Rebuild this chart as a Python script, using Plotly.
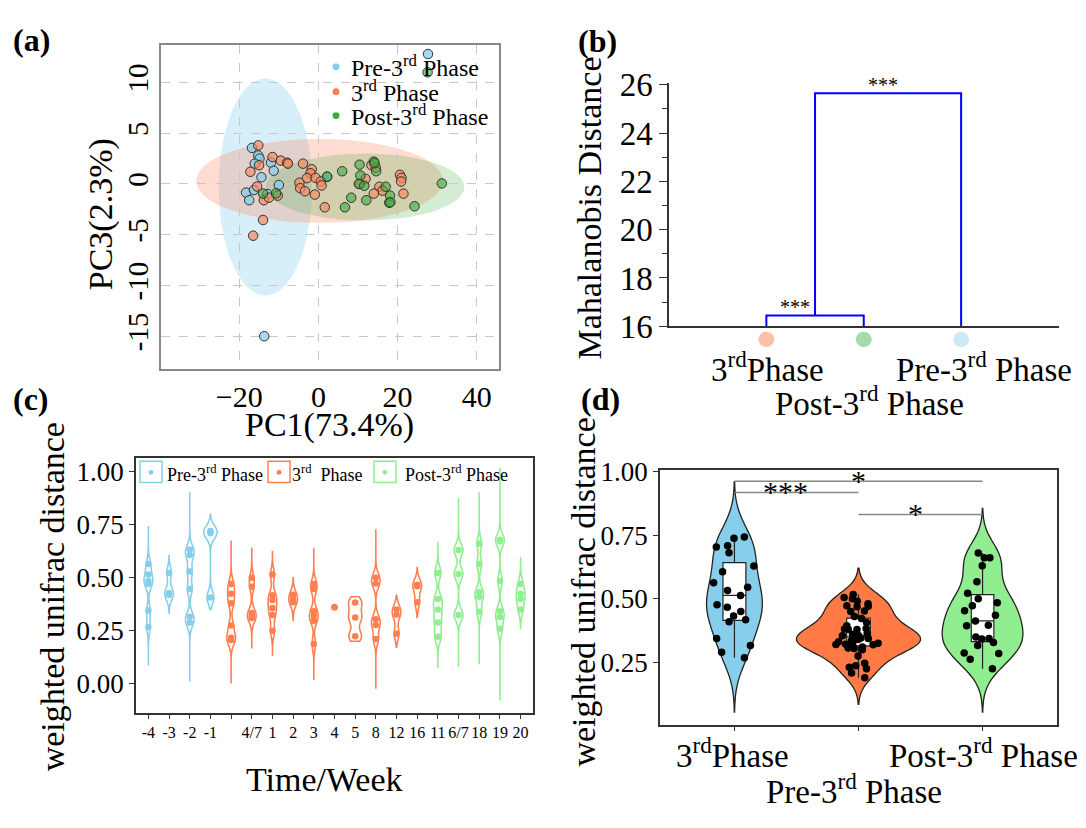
import plotly.graph_objects as go

W, H = 1086, 828
FONT = "Liberation Serif, Times New Roman, serif"


def fx(p):
    return p / W


def fy(p):
    return 1 - p / H


# ---------------- Panel (a): PCA scatter ----------------
pre_pc1 = [-16.8, -15.2, -14.9, -16.1, -12.0, -11.3, -14.4, -10.0, -18.3, -16.3, -17.5, -12.9, -13.7, 27.7, 2.2]
pre_pc3 = [3.55, 2.8, 2.5, 2.0, 2.1, 1.3, 0.66, -0.1, -0.85, -0.6, -1.6, -1.0, -15.0, 12.8, 0.7]

third_pc1 = [-15.2, -11.6, -9.5, -7.9, -7.7, -3.9, -1.7, -2.0, -2.9, -0.7, 0.6, 0.8, -4.8, -4.6, -3.4, -0.9,
             1.6, -17.2, -15.5, -13.8, -12.5, -10.3, -14.0, -16.5, -15.0, 13.4, 14.5, 11.9, 10.5, 15.4,
             16.2, 14.0, 20.6, 21.0, 20.9, 21.5]
third_pc3 = [3.8, 2.65, 2.3, 2.1, 2.0, 2.0, 1.45, 1.05, 0.57, 0.6, 0.25, -0.15, 0.12, -0.42, -0.72, -1.05,
             -2.3, 1.2, -0.25, -1.6, -1.35, -1.15, -3.55, -5.1, 1.85, 1.85, 1.6, 0.5, 0.0, -0.28,
             -0.66, -0.95, 0.9, 0.6, 0.24, -0.95]

post_pc1 = [6.0, 10.4, 14.0, 14.6, 10.6, 10.2, 11.6, 17.0, 18.1, 17.9, 12.1, 8.3, 6.7, 24.3, 31.2, 2.2,
            -14.0, -10.7, 27.6, 14.2, 18.2]
post_pc3 = [1.25, 1.9, 2.2, 1.25, 0.83, 0.0, -0.18, -0.28, -1.15, -1.85, -1.6, -1.35, -2.3, -2.2, 0.05, 0.72,
            -0.95, -0.92, 11.0, 2.05, -1.8]

# confidence ellipses (centre, semi-axes) for Pre-3rd, 3rd, Post-3rd
ell_cx = [-13.4, 0.3, 11.8]
ell_cy = [-0.3, 0.3, -0.3]
ell_rx = [11.8, 31.2, 25.1]
ell_ry = [10.7, 4.13, 3.3]

# ---------------- Panel (b): dendrogram ----------------
b_leaf_labels = ["3<sup>rd</sup>Phase", "Post-3<sup>rd</sup> Phase", "Pre-3<sup>rd</sup> Phase"]
b_leaf_x = [1, 2, 3]
b_base = 16
# merges: [left cluster id, right cluster id, height]; new clusters numbered from 3
b_merges = [[0, 1, 16.45], [3, 2, 25.65]]
b_sig = ["***", "***"]

# ---------------- Panel (c): weekly violins ----------------
c_tick_labels = ["-4", "-3", "-2", "-1", "", "4/7", "1", "2", "3", "4", "5", "8", "12", "16",
                 "11", "6/7", "18", "19", "20"]
c_phase = ["pre"] * 4 + ["third"] * 10 + ["post"] * 5
c_values = [
    [0.565, 0.515, 0.485, 0.47, 0.345, 0.267],
    [0.523, 0.428, 0.42],
    [0.633, 0.608, 0.53, 0.447, 0.316, 0.289],
    [0.721, 0.71, 0.407],
    [0.47, 0.425, 0.38, 0.274, 0.217, 0.206],
    [0.5, 0.458, 0.334, 0.32, 0.31],
    [0.515, 0.417, 0.395, 0.357, 0.324, 0.25],
    [0.42, 0.4, 0.384],
    [0.47, 0.447, 0.342, 0.32, 0.297, 0.187],
    [0.361],
    [0.383, 0.312, 0.224],
    [0.5, 0.473, 0.304, 0.277, 0.211],
    [0.35, 0.327, 0.236],
    [0.467, 0.46, 0.384],
    [0.523, 0.4, 0.35, 0.289, 0.221],
    [0.631, 0.518, 0.324],
    [0.661, 0.565, 0.432, 0.41, 0.339],
    [0.68, 0.673, 0.485, 0.342, 0.315, 0.259],
    [0.47, 0.425, 0.4, 0.35],
]
c_span_lo = [0.086, 0.334, 0.01, 0.35, 0.0, 0.166, 0.131, 0.3, 0.018, 0.361, 0.2, -0.024, 0.172, 0.312,
             0.074, 0.078, 0.093, -0.08, 0.26]
c_span_hi = [0.744, 0.605, 0.904, 0.80, 0.676, 0.643, 0.628, 0.5, 0.639, 0.361, 0.41, 0.729, 0.417, 0.548,
             0.669, 0.877, 0.904, 1.02, 0.598]

# ---------------- Panel (d): phase violins ----------------
d_tick_labels = ["3<sup>rd</sup>Phase", "Pre-3<sup>rd</sup> Phase", "Post-3<sup>rd</sup> Phase"]
d_pre = [0.743, 0.738, 0.703, 0.708, 0.681, 0.629, 0.606, 0.563, 0.545, 0.532, 0.513, 0.476, 0.467,
         0.45, 0.432, 0.41, 0.417, 0.344, 0.316, 0.29, 0.268]
d_third = [0.50, 0.517, 0.505, 0.469, 0.47, 0.472, 0.45, 0.452, 0.422, 0.407, 0.394, 0.381, 0.38, 0.383,
           0.379, 0.363, 0.356, 0.35, 0.355, 0.344, 0.346, 0.325, 0.327, 0.331, 0.319, 0.321, 0.32,
           0.316, 0.306, 0.3, 0.31, 0.304, 0.275, 0.247, 0.237, 0.231, 0.225, 0.208, 0.19, 0.49, 0.48,
           0.43, 0.34, 0.335, 0.36]
d_post = [0.68, 0.661, 0.661, 0.63, 0.567, 0.522, 0.5, 0.484, 0.472, 0.435, 0.453, 0.413, 0.396, 0.394,
          0.344, 0.35, 0.342, 0.328, 0.316, 0.285, 0.287, 0.262, 0.225]
d_span_lo = [0.055, 0.085, 0.055]
d_span_hi = [0.96, 0.62, 0.855]
# significance comparisons: group a, group b, bracket level, label, label x
d_sig_a = [0, 0, 1]
d_sig_b = [2, 1, 2]
d_sig_level = [0.962, 0.917, 0.831]
d_sig_text = ["*", "***", "*"]
d_sig_text_x = [1.0, 0.415, 1.46]

# ---------------- styles ----------------
COL = {"pre": "#87ceeb", "third": "#ff7f50", "post": "#90ee90"}
PT_COL = ["rgba(135,206,235,0.75)", "rgba(245,140,95,0.7)", "rgba(60,170,60,0.6)"]
ELL_COL = ["rgba(135,206,235,0.33)", "rgba(250,128,90,0.28)", "rgba(60,170,60,0.22)"]
LEG_COL = ["#7fcbea", "#ff7f50", "#35b035"]
LEAF_COL = ["#f9c1a7", "#a5dba7", "#cde9f6"]

# panel (b) plot-area geometry in pixels (for leaf decorations)
B_X0, B_X1, B_XR = 669, 1058.5, [0, 4]
B_Y0, B_Y1, B_YR = 324, 70, [16, 26.07]

fig = go.Figure()
shapes = []
ann = []

# ---- (a)
for cx, cy, rx, ry, col in zip(ell_cx, ell_cy, ell_rx, ell_ry, ELL_COL):
    shapes.append(dict(type="circle", xref="x", yref="y", x0=cx - rx, x1=cx + rx, y0=cy - ry, y1=cy + ry,
                       fillcolor=col, line=dict(width=0), layer="below"))
for xs, ys, col in [(pre_pc1, pre_pc3, PT_COL[0]), (third_pc1, third_pc3, PT_COL[1]),
                    (post_pc1, post_pc3, PT_COL[2])]:
    fig.add_trace(go.Scatter(x=xs, y=ys, mode="markers", xaxis="x", yaxis="y", showlegend=False,
                             marker=dict(size=9.5, color=col, line=dict(color="#333", width=1))))

leg_a_text = ["Pre-3<sup>rd</sup> Phase", "3<sup>rd</sup> Phase", "Post-3<sup>rd</sup> Phase"]
leg_a_y = [53, 79, 104]
for t, yy, col in zip(leg_a_text, leg_a_y, LEG_COL):
    shapes.append(dict(type="circle", xref="paper", yref="paper", x0=fx(332.5), x1=fx(339.5),
                       y0=fy(yy + 3.5), y1=fy(yy - 3.5), fillcolor=col, line=dict(width=0)))
    ann.append(dict(text=t, x=fx(349), y=fy(yy - 1), xref="paper", yref="paper", xanchor="left",
                    yanchor="middle", showarrow=False, font=dict(family=FONT, size=24, color="black")))

# ---- (b) dendrogram
clusters = [(x, b_base) for x in b_leaf_x]
for ia, ib, h in b_merges:
    xa, ha = clusters[ia]
    xb, hb = clusters[ib]
    fig.add_trace(go.Scatter(x=[xa, xa, xb, xb], y=[ha, h, h, hb], mode="lines", xaxis="x2", yaxis="y2",
                             line=dict(color="#0000ff", width=2), showlegend=False, hoverinfo="skip"))
    clusters.append(((xa + xb) / 2, h))
leaf_y_px = B_Y0 + 13.6
for lx, col in zip(b_leaf_x, LEAF_COL):
    cxp = B_X0 + (lx - B_XR[0]) / (B_XR[1] - B_XR[0]) * (B_X1 - B_X0)
    shapes.append(dict(type="circle", xref="paper", yref="paper", x0=fx(cxp - 8), x1=fx(cxp + 8),
                       y0=fy(leaf_y_px + 8), y1=fy(leaf_y_px - 8), fillcolor=col, line=dict(width=0)))
ann.append(dict(text=b_sig[1], x=2.2, y=25.98, xref="x2", yref="y2", showarrow=False,
                font=dict(family=FONT, size=20, color="black")))
ann.append(dict(text=b_sig[0], x=1.29, y=16.78, xref="x2", yref="y2", showarrow=False,
                font=dict(family=FONT, size=20, color="black")))
for t, xx, yy in zip(b_leaf_labels, [767.5, 869.5, 983.7], [366, 402, 366]):
    ann.append(dict(text=t, x=fx(xx), y=fy(yy), xref="paper", yref="paper", xanchor="center",
                    yanchor="middle", showarrow=False, font=dict(family=FONT, size=33, color="black")))

# ---- (c) weekly violins
for i, (vals, ph, lo, hi) in enumerate(zip(c_values, c_phase, c_span_lo, c_span_hi)):
    col = COL[ph]
    if len(vals) == 1:
        fig.add_trace(go.Scatter(x=[i], y=vals, mode="markers", xaxis="x3", yaxis="y3", showlegend=False,
                                 marker=dict(color=col, size=7)))
        continue
    wdt = 0.65 if i in (3, 10) else 0.42
    fig.add_trace(go.Violin(x=[i] * len(vals), y=vals, xaxis="x3", yaxis="y3", showlegend=False,
                            line=dict(color=col, width=1.6), fillcolor="rgba(255,255,255,0)",
                            points="all", pointpos=0, jitter=0, marker=dict(color=col, size=6.5),
                            width=wdt, bandwidth=0.03, spanmode="manual", span=[lo, hi],
                            scalemode="width", hoverinfo="skip"))

leg_c = [("Pre-3<sup>rd</sup> Phase", 140, 165, COL["pre"]), ("3<sup>rd</sup>  Phase", 268, 290, COL["third"]),
         ("Post-3<sup>rd</sup> Phase", 374, 403, COL["post"])]
for t, bx, tx, col in leg_c:
    shapes.append(dict(type="rect", xref="paper", yref="paper", x0=fx(bx), x1=fx(bx + 22), y0=fy(487),
                       y1=fy(465), line=dict(color=col, width=1.5), fillcolor="rgba(0,0,0,0)"))
    shapes.append(dict(type="circle", xref="paper", yref="paper", x0=fx(bx + 8.5), x1=fx(bx + 13.5),
                       y0=fy(479), y1=fy(474), fillcolor=col, line=dict(width=0)))
    ann.append(dict(text=t, x=fx(tx), y=fy(478), xref="paper", yref="paper", xanchor="left",
                    yanchor="middle", showarrow=False, font=dict(family=FONT, size=18, color="black")))

# ---- (d) phase violins
d_sets = [d_pre, d_third, d_post]
d_cols = [COL["pre"], "#ff7a45", COL["post"]]
d_width = [0.45, 1.0, 0.65]
d_boxw = [0.41, 0.19, 0.28]
d_bw = [0.08, 0.045, 0.065]
d_jit = [0.85, 0.38, 0.55]
for k, vals in enumerate(d_sets):
    fig.add_trace(go.Violin(x=[k] * len(vals), y=vals, xaxis="x4", yaxis="y4", showlegend=False,
                            fillcolor=d_cols[k], line=dict(color="#222", width=1.3), opacity=1,
                            box=dict(visible=True, width=d_boxw[k], fillcolor="white",
                                     line=dict(color="#222", width=1.2)),
                            meanline=dict(visible=False), points="all", pointpos=0, jitter=d_jit[k],
                            marker=dict(color="black", size=7.5), width=d_width[k], bandwidth=d_bw[k],
                            spanmode="manual", span=[d_span_lo[k], d_span_hi[k]], scalemode="width",
                            hoverinfo="skip"))
for a, b, lv, t, tx in zip(d_sig_a, d_sig_b, d_sig_level, d_sig_text, d_sig_text_x):
    shapes.append(dict(type="line", xref="x4", yref="y4", x0=a, x1=b, y0=lv, y1=lv,
                       line=dict(color="#888", width=1.5)))
    ann.append(dict(text=t, x=tx, y=lv, xref="x4", yref="y4", yanchor="middle", yshift=1,
                    showarrow=False, font=dict(family=FONT, size=30, color="black")))
for t, xx, yy in zip(d_tick_labels, [732.6, 853.8, 983.7], [770, 807, 770]):
    ann.append(dict(text=t, x=fx(xx), y=fy(yy), xref="paper", yref="paper", xanchor="center",
                    yanchor="middle", showarrow=False, font=dict(family=FONT, size=33, color="black")))


# ---- titles & panel labels
def title(text, x, y, size=34, angle=0, bold=False):
    ann.append(dict(text=("<b>%s</b>" % text) if bold else text, x=fx(x), y=fy(y), xref="paper",
                    yref="paper", xanchor="center", yanchor="middle", showarrow=False, textangle=angle,
                    font=dict(family=FONT, size=size, color="black")))


title("PC1(73.4%)", 329, 427)
title("PC3(2.3%)", 101, 207, angle=-90)
title("Mahalanobis Distance", 590, 200, angle=-90)
title("weighted unifrac distance", 52, 607, angle=-90)
title("Time/Week", 324, 797)
title("weighted unifrac distance", 584, 602, angle=-90)
title("(a)", 31, 25, size=32, bold=True)
title("(b)", 597, 26, size=32, bold=True)
title("(c)", 31, 400, size=32, bold=True)
title("(d)", 600, 400, size=32, bold=True)


def tickfont(s):
    return dict(family=FONT, size=s, color="black")


fig.update_layout(
    width=W, height=H, margin=dict(l=0, r=0, t=0, b=0), paper_bgcolor="white", plot_bgcolor="white",
    font=dict(family=FONT, color="black"),
    violinmode="overlay", violingap=0, showlegend=False, shapes=shapes, annotations=ann,
    xaxis=dict(domain=[fx(161), fx(499)], range=[-39.8, 45.65], tickvals=[-20, 0, 20, 40], anchor="y",
               showgrid=True, gridcolor="#c8c8c8", griddash="dash", gridwidth=1, zeroline=False,
               showline=True, mirror=True, linecolor="#888", linewidth=1.5, ticks="", tickfont=tickfont(30)),
    yaxis=dict(domain=[fy(369), fy(30.7)], range=[-18.27, 13.65], tickvals=[-15, -10, -5, 0, 5, 10],
               ticktext=["-15", "-10", "-5", "0", "5", "10"],
               anchor="x", showgrid=True, gridcolor="#c8c8c8", griddash="dash", gridwidth=1, zeroline=False,
               showline=True, mirror=True, linecolor="#888", linewidth=1.5, ticks="", tickangle=270,
               tickfont=tickfont(29)),
    xaxis2=dict(domain=[fx(B_X0), fx(B_X1)], range=B_XR, anchor="y2", showgrid=False, zeroline=False,
                showline=True, linecolor="#333", linewidth=1.5, showticklabels=False, ticks=""),
    yaxis2=dict(domain=[fy(B_Y0), fy(B_Y1)], range=B_YR, anchor="x2", showgrid=False, zeroline=False,
                showline=True, linecolor="#333", linewidth=1.5, tickvals=[16, 18, 20, 22, 24, 26],
                ticks="outside", ticklen=8, tickcolor="#333",
                minor=dict(tickvals=[17, 19, 21, 23, 25], ticks="outside", ticklen=5, tickcolor="#333"),
                tickfont=tickfont(33)),
    xaxis3=dict(domain=[fx(136), fx(533)], range=[-0.6, 18.6], anchor="y3", tickvals=list(range(19)),
                ticktext=c_tick_labels, showgrid=False, zeroline=False, showline=True, mirror=True,
                linecolor="#333", linewidth=1.5, ticks="outside", ticklen=4, tickcolor="#333",
                tickfont=tickfont(16)),
    yaxis3=dict(domain=[fy(728), fy(461.7)], range=[-0.14, 1.065], anchor="x3",
                tickvals=[0, 0.25, 0.5, 0.75, 1.0], ticktext=["0.00", "0.25", "0.50", "0.75", "1.00"],
                showgrid=False, zeroline=False, showline=True, mirror=True, linecolor="#333", linewidth=1.5,
                ticks="outside", ticklen=5, tickcolor="#333", tickfont=tickfont(27)),
    xaxis4=dict(domain=[fx(660), fx(1057)], range=[-0.6, 2.6], anchor="y4", tickvals=[0, 1, 2],
                showticklabels=False, showgrid=False, zeroline=False, showline=True, mirror=True,
                linecolor="#333", linewidth=1.5, ticks="outside", ticklen=5, tickcolor="#333"),
    yaxis4=dict(domain=[fy(740), fy(474)], range=[0.005, 1.006], anchor="x4",
                tickvals=[0.25, 0.5, 0.75, 1.0], ticktext=["0.25", "0.50", "0.75", "1.00"],
                showgrid=False, zeroline=False, showline=True, mirror=True, linecolor="#333", linewidth=1.5,
                ticks="outside", ticklen=5, tickcolor="#333", tickfont=tickfont(27)),
)

fig.write_html("out.html", config={"displayModeBar": False},
               post_script="document.body.style.margin='0';document.body.style.overflow='hidden';")
